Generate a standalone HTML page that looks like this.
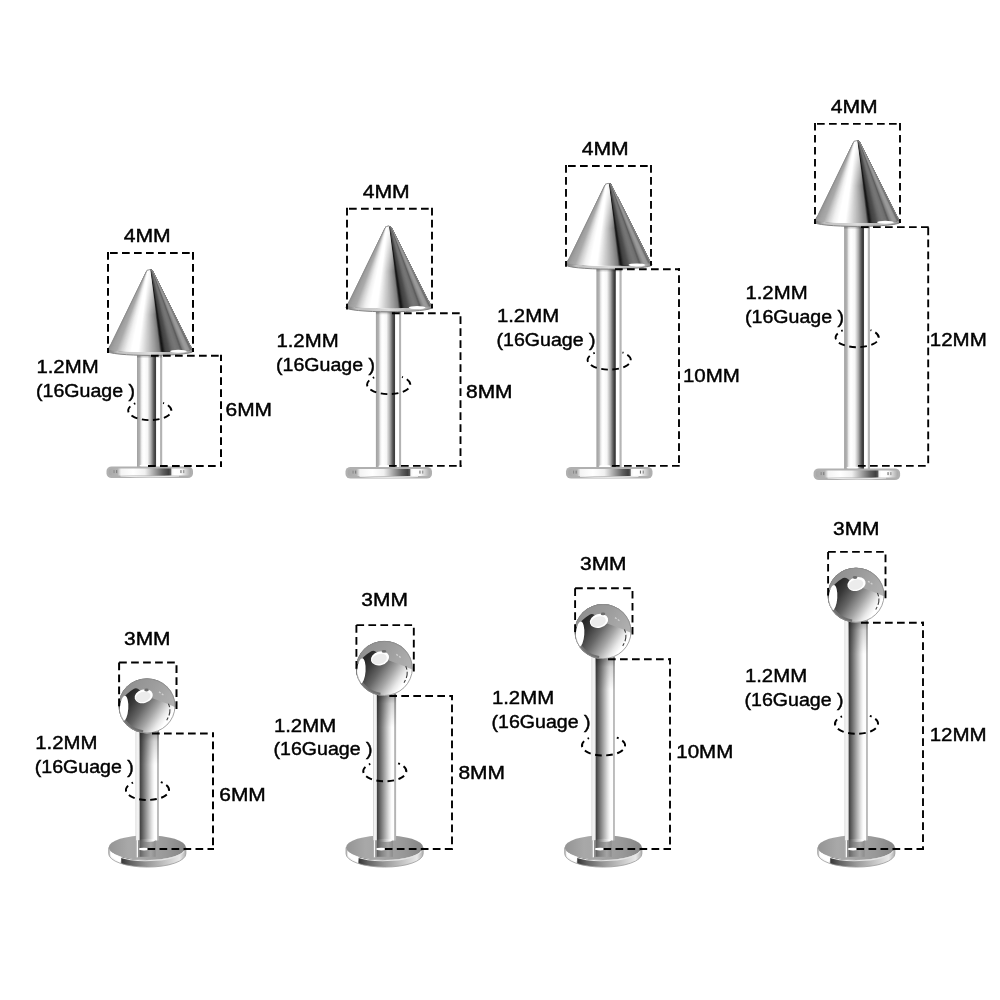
<!DOCTYPE html>
<html lang="en">
<head>
<meta charset="utf-8">
<title>Labret stud size chart</title>
<style>
html,body{margin:0;padding:0;background:#fff;}
body{width:1000px;height:1000px;overflow:hidden;}
svg{display:block;}
text{font-family:"Liberation Sans",Arial,sans-serif;fill:#000;stroke:#000;stroke-width:0.45px;}
</style>
</head>
<body>
<svg width="1000" height="1000" viewBox="0 0 1000 1000">
<defs>
<linearGradient id="postA" x1="0" y1="0" x2="1" y2="0" gradientUnits="objectBoundingBox"><stop offset="0.000" stop-color="#a0a0a0"/><stop offset="0.110" stop-color="#b4b4b4"/><stop offset="0.170" stop-color="#e8e8e8"/><stop offset="0.230" stop-color="#fcfcfc"/><stop offset="0.280" stop-color="#ffffff"/><stop offset="0.420" stop-color="#f6f6f6"/><stop offset="0.550" stop-color="#b0b0b0"/><stop offset="0.660" stop-color="#5c5c5c"/><stop offset="0.720" stop-color="#3c3c3c"/><stop offset="0.755" stop-color="#404040"/><stop offset="0.770" stop-color="#f0f0f0"/><stop offset="0.800" stop-color="#ffffff"/><stop offset="0.900" stop-color="#ffffff"/><stop offset="0.930" stop-color="#b8b8b8"/><stop offset="1.000" stop-color="#b0b0b0"/></linearGradient>
<linearGradient id="postB" x1="0" y1="0" x2="1" y2="0" gradientUnits="objectBoundingBox"><stop offset="0.000" stop-color="#b8b8b8"/><stop offset="0.040" stop-color="#f4f4f4"/><stop offset="0.120" stop-color="#f0f0f0"/><stop offset="0.160" stop-color="#d0d0d0"/><stop offset="0.180" stop-color="#404040"/><stop offset="0.240" stop-color="#505050"/><stop offset="0.400" stop-color="#848484"/><stop offset="0.560" stop-color="#b8b8b8"/><stop offset="0.700" stop-color="#e4e4e4"/><stop offset="0.800" stop-color="#fcfcfc"/><stop offset="0.900" stop-color="#ffffff"/><stop offset="0.930" stop-color="#c0c0c0"/><stop offset="1.000" stop-color="#acacac"/></linearGradient>
<linearGradient id="postShadeB" x1="0" y1="0" x2="0" y2="1"><stop offset="0" stop-color="#000" stop-opacity="0.4"/><stop offset="0.3" stop-color="#000" stop-opacity="0.16"/><stop offset="1" stop-color="#000" stop-opacity="0"/></linearGradient>
<linearGradient id="postFoot" x1="0" y1="0" x2="1" y2="0" gradientUnits="objectBoundingBox"><stop offset="0.000" stop-color="#585858"/><stop offset="0.300" stop-color="#808080"/><stop offset="0.700" stop-color="#a4a4a4"/><stop offset="1.000" stop-color="#8c8c8c"/></linearGradient>
<linearGradient id="postB2" x1="0" y1="0" x2="1" y2="0" gradientUnits="objectBoundingBox"><stop offset="0.000" stop-color="#505050"/><stop offset="0.100" stop-color="#606060"/><stop offset="0.350" stop-color="#989898"/><stop offset="0.600" stop-color="#d0d0d0"/><stop offset="0.850" stop-color="#fcfcfc"/><stop offset="1.000" stop-color="#f0f0f0"/></linearGradient>
<linearGradient id="postRefl" x1="0" y1="0" x2="1" y2="0" gradientUnits="objectBoundingBox"><stop offset="0.000" stop-color="#606060"/><stop offset="0.300" stop-color="#848484"/><stop offset="0.700" stop-color="#a4a4a4"/><stop offset="1.000" stop-color="#8c8c8c"/></linearGradient>
<linearGradient id="discA" x1="0" y1="0" x2="1" y2="0" gradientUnits="objectBoundingBox"><stop offset="0.000" stop-color="#a8a8a8"/><stop offset="0.110" stop-color="#b4b4b4"/><stop offset="0.150" stop-color="#f4f4f4"/><stop offset="0.300" stop-color="#ffffff"/><stop offset="0.440" stop-color="#f0f0f0"/><stop offset="0.550" stop-color="#a8a8a8"/><stop offset="0.660" stop-color="#606060"/><stop offset="0.730" stop-color="#404040"/><stop offset="0.755" stop-color="#585858"/><stop offset="0.770" stop-color="#f4f4f4"/><stop offset="0.800" stop-color="#ffffff"/><stop offset="0.880" stop-color="#fcfcfc"/><stop offset="0.930" stop-color="#d8d8d8"/><stop offset="1.000" stop-color="#a8a8a8"/></linearGradient>
<linearGradient id="rim" x1="0" y1="0" x2="1" y2="0" gradientUnits="objectBoundingBox"><stop offset="0.000" stop-color="#787878"/><stop offset="0.070" stop-color="#989898"/><stop offset="0.120" stop-color="#c0c0c0"/><stop offset="0.300" stop-color="#cccccc"/><stop offset="0.500" stop-color="#dcdcdc"/><stop offset="0.700" stop-color="#b8b8b8"/><stop offset="0.880" stop-color="#c8c8c8"/><stop offset="0.950" stop-color="#a0a0a0"/><stop offset="1.000" stop-color="#808080"/></linearGradient>
<linearGradient id="postShade" x1="0" y1="0" x2="0" y2="1"><stop offset="0" stop-color="#000" stop-opacity="0.45"/><stop offset="1" stop-color="#000" stop-opacity="0"/></linearGradient>
<linearGradient id="discBtop" x1="0" y1="0" x2="1" y2="0" gradientUnits="objectBoundingBox"><stop offset="0.000" stop-color="#949494"/><stop offset="0.250" stop-color="#a8a8a8"/><stop offset="0.500" stop-color="#a4a4a4"/><stop offset="0.750" stop-color="#989898"/><stop offset="1.000" stop-color="#848484"/></linearGradient>
<linearGradient id="discBside" x1="0" y1="0" x2="1" y2="0" gradientUnits="objectBoundingBox"><stop offset="0.000" stop-color="#b0b0b0"/><stop offset="0.030" stop-color="#f0f0f0"/><stop offset="0.150" stop-color="#ffffff"/><stop offset="0.170" stop-color="#383838"/><stop offset="0.280" stop-color="#606060"/><stop offset="0.500" stop-color="#989898"/><stop offset="0.750" stop-color="#c8c8c8"/><stop offset="0.920" stop-color="#e8e8e8"/><stop offset="1.000" stop-color="#b0b0b0"/></linearGradient>
<linearGradient id="ballBody" x1="-20" y1="-7" x2="17" y2="18" gradientUnits="userSpaceOnUse"><stop offset="0.000" stop-color="#282828"/><stop offset="0.150" stop-color="#383838"/><stop offset="0.400" stop-color="#666666"/><stop offset="0.650" stop-color="#a4a4a4"/><stop offset="0.880" stop-color="#e8e8e8"/><stop offset="1.000" stop-color="#ffffff"/></linearGradient>
<linearGradient id="ballTop" x1="-20" y1="-28" x2="24" y2="0" gradientUnits="userSpaceOnUse"><stop offset="0.000" stop-color="#8e8e8e"/><stop offset="0.500" stop-color="#9c9c9c"/><stop offset="1.000" stop-color="#b0b0b0"/></linearGradient>
<clipPath id="coneClip"><path d="M0.17 96.40 L37.91 18.87 A4.10 4.10 0 0 1 45.41 18.87 L84.39 96.40 A43.10 3.20 0 0 1 0.17 96.40 Z"/></clipPath>
<linearGradient id="coneFade" x1="0" y1="24" x2="0" y2="62" gradientUnits="userSpaceOnUse"><stop offset="0" stop-color="#fff" stop-opacity="0.9"/><stop offset="0.5" stop-color="#fff" stop-opacity="0.45"/><stop offset="1" stop-color="#fff" stop-opacity="0"/></linearGradient>
<g id="cone"><path d="M-0.80 98.10 A43.10 4.30 0 0 0 85.40 98.10 L82.40 92.40 L2.20 92.40 Z" fill="url(#rim)" stroke="#828282" stroke-width="1" stroke-linejoin="round"/><g clip-path="url(#coneClip)"><path d="M41.60 9.80 L-12.69 106.40 L95.97 106.40 Z" fill="#929292"/><path d="M41.60 9.80 L-3.52 106.40 L95.97 106.40 Z" fill="#969696"/><path d="M41.60 9.80 L-2.34 106.40 L95.97 106.40 Z" fill="#9a9a9a"/><path d="M41.60 9.80 L-1.16 106.40 L95.97 106.40 Z" fill="#9e9e9e"/><path d="M41.60 9.80 L0.01 106.40 L95.97 106.40 Z" fill="#a1a1a1"/><path d="M41.60 9.80 L1.19 106.40 L95.97 106.40 Z" fill="#a3a3a3"/><path d="M41.60 9.80 L2.36 106.40 L95.97 106.40 Z" fill="#a6a6a6"/><path d="M41.60 9.80 L3.54 106.40 L95.97 106.40 Z" fill="#a8a8a8"/><path d="M41.60 9.80 L4.72 106.40 L95.97 106.40 Z" fill="#ababab"/><path d="M41.60 9.80 L5.89 106.40 L95.97 106.40 Z" fill="#b4b4b4"/><path d="M41.60 9.80 L7.07 106.40 L95.97 106.40 Z" fill="#bcbcbc"/><path d="M41.60 9.80 L8.25 106.40 L95.97 106.40 Z" fill="#c5c5c5"/><path d="M41.60 9.80 L9.42 106.40 L95.97 106.40 Z" fill="#cdcdcd"/><path d="M41.60 9.80 L10.60 106.40 L95.97 106.40 Z" fill="#d5d5d5"/><path d="M41.60 9.80 L11.78 106.40 L95.97 106.40 Z" fill="#dbdbdb"/><path d="M41.60 9.80 L12.95 106.40 L95.97 106.40 Z" fill="#e2e2e2"/><path d="M41.60 9.80 L14.13 106.40 L95.97 106.40 Z" fill="#e9e9e9"/><path d="M41.60 9.80 L15.31 106.40 L95.97 106.40 Z" fill="#efefef"/><path d="M41.60 9.80 L16.48 106.40 L95.97 106.40 Z" fill="#f3f3f3"/><path d="M41.60 9.80 L17.66 106.40 L95.97 106.40 Z" fill="#f6f6f6"/><path d="M41.60 9.80 L18.83 106.40 L95.97 106.40 Z" fill="#f9f9f9"/><path d="M41.60 9.80 L20.01 106.40 L95.97 106.40 Z" fill="#fcfcfc"/><path d="M41.60 9.80 L21.19 106.40 L95.97 106.40 Z" fill="#ffffff"/><path d="M41.60 9.80 L22.36 106.40 L95.97 106.40 Z" fill="#ffffff"/><path d="M41.60 9.80 L23.54 106.40 L95.97 106.40 Z" fill="#ffffff"/><path d="M41.60 9.80 L24.72 106.40 L95.97 106.40 Z" fill="#ffffff"/><path d="M41.60 9.80 L25.89 106.40 L95.97 106.40 Z" fill="#ffffff"/><path d="M41.60 9.80 L27.07 106.40 L95.97 106.40 Z" fill="#ffffff"/><path d="M41.60 9.80 L28.25 106.40 L95.97 106.40 Z" fill="#ffffff"/><path d="M41.60 9.80 L29.42 106.40 L95.97 106.40 Z" fill="#fbfbfb"/><path d="M41.60 9.80 L30.60 106.40 L95.97 106.40 Z" fill="#f4f4f4"/><path d="M41.60 9.80 L31.78 106.40 L95.97 106.40 Z" fill="#eeeeee"/><path d="M41.60 9.80 L32.95 106.40 L95.97 106.40 Z" fill="#e8e8e8"/><path d="M41.60 9.80 L34.13 106.40 L95.97 106.40 Z" fill="#e2e2e2"/><path d="M41.60 9.80 L35.31 106.40 L95.97 106.40 Z" fill="#dbdbdb"/><path d="M41.60 9.80 L36.48 106.40 L95.97 106.40 Z" fill="#d5d5d5"/><path d="M41.60 9.80 L37.66 106.40 L95.97 106.40 Z" fill="#cecece"/><path d="M41.60 9.80 L38.83 106.40 L95.97 106.40 Z" fill="#c8c8c8"/><path d="M41.60 9.80 L40.01 106.40 L95.97 106.40 Z" fill="#c2c2c2"/><path d="M41.60 9.80 L41.19 106.40 L95.97 106.40 Z" fill="#bbbbbb"/><path d="M41.60 9.80 L42.36 106.40 L95.97 106.40 Z" fill="#b5b5b5"/><path d="M41.60 9.80 L43.54 106.40 L95.97 106.40 Z" fill="#aeaeae"/><path d="M41.60 9.80 L44.72 106.40 L95.97 106.40 Z" fill="#a7a7a7"/><path d="M41.60 9.80 L45.89 106.40 L95.97 106.40 Z" fill="#a1a1a1"/><path d="M41.60 9.80 L47.07 106.40 L95.97 106.40 Z" fill="#9a9a9a"/><path d="M41.60 9.80 L48.25 106.40 L95.97 106.40 Z" fill="#929292"/><path d="M41.60 9.80 L49.42 106.40 L95.97 106.40 Z" fill="#8a8a8a"/><path d="M41.60 9.80 L50.60 106.40 L95.97 106.40 Z" fill="#828282"/><path d="M41.60 9.80 L51.78 106.40 L95.97 106.40 Z" fill="#7a7a7a"/><path d="M41.60 9.80 L52.95 106.40 L95.97 106.40 Z" fill="#515151"/><path d="M41.60 9.80 L54.13 106.40 L95.97 106.40 Z" fill="#1f1f1f"/><path d="M41.60 9.80 L55.31 106.40 L95.97 106.40 Z" fill="#151515"/><path d="M41.60 9.80 L56.48 106.40 L95.97 106.40 Z" fill="#242424"/><path d="M41.60 9.80 L57.66 106.40 L95.97 106.40 Z" fill="#373737"/><path d="M41.60 9.80 L58.83 106.40 L95.97 106.40 Z" fill="#424242"/><path d="M41.60 9.80 L60.01 106.40 L95.97 106.40 Z" fill="#474747"/><path d="M41.60 9.80 L61.19 106.40 L95.97 106.40 Z" fill="#4b4b4b"/><path d="M41.60 9.80 L62.36 106.40 L95.97 106.40 Z" fill="#505050"/><path d="M41.60 9.80 L63.54 106.40 L95.97 106.40 Z" fill="#585858"/><path d="M41.60 9.80 L64.72 106.40 L95.97 106.40 Z" fill="#616161"/><path d="M41.60 9.80 L65.89 106.40 L95.97 106.40 Z" fill="#696969"/><path d="M41.60 9.80 L67.07 106.40 L95.97 106.40 Z" fill="#6f6f6f"/><path d="M41.60 9.80 L68.25 106.40 L95.97 106.40 Z" fill="#727272"/><path d="M41.60 9.80 L69.42 106.40 L95.97 106.40 Z" fill="#767676"/><path d="M41.60 9.80 L70.60 106.40 L95.97 106.40 Z" fill="#777777"/><path d="M41.60 9.80 L71.78 106.40 L95.97 106.40 Z" fill="#757575"/><path d="M41.60 9.80 L72.95 106.40 L95.97 106.40 Z" fill="#727272"/><path d="M41.60 9.80 L74.13 106.40 L95.97 106.40 Z" fill="#707070"/><path d="M41.60 9.80 L75.31 106.40 L95.97 106.40 Z" fill="#616161"/><path d="M41.60 9.80 L76.48 106.40 L95.97 106.40 Z" fill="#5e5e5e"/><path d="M41.60 9.80 L77.66 106.40 L95.97 106.40 Z" fill="#787878"/><path d="M41.60 9.80 L78.83 106.40 L95.97 106.40 Z" fill="#878787"/><path d="M41.60 9.80 L80.01 106.40 L95.97 106.40 Z" fill="#919191"/><path d="M41.60 9.80 L81.19 106.40 L95.97 106.40 Z" fill="#9b9b9b"/><path d="M41.60 9.80 L82.36 106.40 L95.97 106.40 Z" fill="#9b9b9b"/><path d="M41.60 9.80 L83.54 106.40 L95.97 106.40 Z" fill="#999999"/><path d="M41.60 9.80 L84.72 106.40 L95.97 106.40 Z" fill="#959595"/><path d="M41.60 9.80 L85.89 106.40 L95.97 106.40 Z" fill="#7a7a7a"/><path d="M41.60 9.80 L87.07 106.40 L95.97 106.40 Z" fill="#696969"/><path d="M41.60 9.80 L88.25 106.40 L95.97 106.40 Z" fill="#636363"/><path d="M41.60 11.30 L21.66 106.40 L54.13 106.40 Z" fill="url(#coneFade)"/></g><path d="M0.47 96.40 L38.21 18.87 A3.80 3.80 0 0 1 45.11 18.87 L84.09 96.40" fill="none" stroke="#8c8c8c" stroke-width="0.9"/><ellipse cx="70.40" cy="98.20" rx="8.4" ry="1.5" fill="#fff"/></g>
<clipPath id="ballClip"><ellipse cx="0" cy="0" rx="28.40" ry="27.50"/></clipPath>
<g id="ball"><ellipse cx="0" cy="0" rx="28.40" ry="27.50" fill="url(#ballBody)"/><g clip-path="url(#ballClip)"><path d="M-40 -2 L-26.8 -4.4 Q-21 -12.5 -13 -17.2 Q-9 -18.6 -6 -14 Q0 -9 6 -7.4 Q14 -4.6 19 -2.6 Q24 -0.6 30 2 L40 -40 L-40 -40 Z" fill="url(#ballTop)"/><path d="M-27.6 3 A27.6 26.8 0 0 0 -4 26.6" fill="none" stroke="#707070" stroke-width="4.4"/><ellipse cx="-23.0" cy="2.6" rx="4.3" ry="12.8" fill="#fff" transform="rotate(4 -23.0 2.6)"/><path d="M21.4 -2.2 Q25.4 6 19.0 15.4" fill="none" stroke="#3c3c3c" stroke-width="1.1" stroke-dasharray="3.5 2.2 6.5 2.2 3 40"/><path d="M12 -14 L17 -10.5" fill="none" stroke="#d0d0d0" stroke-width="1.3" stroke-dasharray="2 1.4"/></g><ellipse cx="0" cy="0" rx="28.00" ry="27.10" fill="none" stroke="#8c8c8c" stroke-width="0.8"/></g>
<g id="spot"><ellipse cx="-3.3" cy="-9.6" rx="9.3" ry="6.8" fill="#fff" transform="rotate(-16 -3.3 -9.6)"/><ellipse cx="-3.9" cy="-9.0" rx="7.6" ry="5.0" fill="#ececec" transform="rotate(-16 -3.9 -9.0)"/></g>
<ellipse id="dot" cx="-0.5" cy="-15.9" rx="2.3" ry="1.4" fill="#6c6c6c"/>
<g id="discT"><rect x="0" y="0" width="86.50" height="11.50" rx="5.2" ry="4.6" fill="#b0b0b0"/><rect x="2.2" y="2.0" width="82.10" height="6.90" rx="3" ry="3" fill="url(#discA)"/><path d="M14 9.30 Q43.25 11.30 72.50 9.30" fill="none" stroke="#e8e8e8" stroke-width="1.2"/><rect x="73.90" y="3.6" width="1.1" height="3" fill="#6a6a6a"/><rect x="76.70" y="3.6" width="1.1" height="3" fill="#8a8a8a"/><rect x="7.0" y="3.6" width="1.1" height="3" fill="#8a8a8a"/><rect x="9.6" y="3.6" width="1.1" height="3" fill="#7a7a7a"/></g>
<g id="discB"><path d="M-38.60 12.40 L-38.60 18.50 A38.60 13.40 0 0 0 38.60 18.50 L38.60 12.40 A38.60 12.40 0 0 1 -38.60 12.40 Z" fill="url(#discBside)"/><path d="M-38.60 12.40 L-38.60 18.50 A38.60 13.40 0 0 0 38.60 18.50 L38.60 12.40" fill="none" stroke="#9a9a9a" stroke-width="0.8"/><ellipse cx="0" cy="12.40" rx="38.60" ry="12.40" fill="url(#discBtop)"/><path d="M-29.60 21.33 A38.60 12.40 0 0 0 36.60 16.12" fill="none" stroke="#e4e4e4" stroke-width="1.1"/><path d="M-37.00 16.00 Q-32.60 19.90 -26.10 22.00 L-26.60 26.40 Q-33.60 24.40 -36.80 20.40 Z" fill="#fff"/></g>
</defs>
<rect width="1000" height="1000" fill="#fff"/>
<g opacity="0.999">
<rect x="137.00" y="353.50" width="25.20" height="113.50" fill="url(#postA)"/>
<rect x="137.00" y="353.50" width="25.20" height="5" fill="url(#postShade)"/>
<ellipse cx="145.50" cy="465.80" rx="6" ry="1.4" fill="#fff"/>
<use href="#discT" x="106.50" y="466.50"/>
<use href="#cone" x="108.00" y="253.00"/>
<path d="M110.0 253.0 H194.0 M108.0 252.0 V353.0 M193.0 252.0 V352.0" fill="none" stroke="#000" stroke-width="2.0" stroke-dasharray="7.7 4.3" />
<path d="M151.0 355.8 H222.0 M148.0 465.9 H222.0" fill="none" stroke="#000" stroke-width="2.0" stroke-dasharray="7.7 4.3" />
<path d="M221.0 354.8 V466.9" fill="none" stroke="#000" stroke-width="2.0" stroke-dasharray="7.7 4.3" stroke-dashoffset="1.5"/>
<path d="M135.35 403.37 A21.60 9.60 0 1 0 163.10 402.94" fill="none" stroke="#000" stroke-width="1.9" stroke-dasharray="6.7 4.3" stroke-dashoffset="5.2"/>
<text x="147.2" y="241.8" font-size="18.8" text-anchor="middle" textLength="47.0" lengthAdjust="spacingAndGlyphs">4MM</text>
<text x="36.4" y="373.3" font-size="18.8" text-anchor="start" textLength="62.2" lengthAdjust="spacingAndGlyphs">1.2MM</text>
<text x="36.0" y="397.2" font-size="18.8" text-anchor="start" textLength="99.0" lengthAdjust="spacingAndGlyphs">(16Guage )</text>
<text x="225.5" y="416.1" font-size="18.8" text-anchor="start" textLength="46.5" lengthAdjust="spacingAndGlyphs">6MM</text>
<rect x="375.90" y="309.90" width="25.20" height="157.60" fill="url(#postA)"/>
<rect x="375.90" y="309.90" width="25.20" height="5" fill="url(#postShade)"/>
<ellipse cx="384.40" cy="466.30" rx="6" ry="1.4" fill="#fff"/>
<use href="#discT" x="345.50" y="467.00"/>
<use href="#cone" x="346.70" y="209.40"/>
<path d="M349.0 208.8 H433.0 M347.0 207.8 V309.4 M432.0 207.8 V308.4" fill="none" stroke="#000" stroke-width="1.9" stroke-dasharray="7.7 4.3" />
<path d="M392.0 313.2 H461.5 M389.0 465.9 H461.5" fill="none" stroke="#000" stroke-width="1.9" stroke-dasharray="7.7 4.3" />
<path d="M460.5 312.2 V466.9" fill="none" stroke="#000" stroke-width="1.9" stroke-dasharray="7.7 4.3" stroke-dashoffset="8.0"/>
<path d="M374.25 377.37 A21.60 9.60 0 1 0 402.00 376.94" fill="none" stroke="#000" stroke-width="1.9" stroke-dasharray="6.7 4.3" stroke-dashoffset="5.2"/>
<text x="386.2" y="197.6" font-size="18.8" text-anchor="middle" textLength="47.0" lengthAdjust="spacingAndGlyphs">4MM</text>
<text x="276.4" y="347.3" font-size="18.8" text-anchor="start" textLength="62.2" lengthAdjust="spacingAndGlyphs">1.2MM</text>
<text x="276.0" y="370.6" font-size="18.8" text-anchor="start" textLength="99.0" lengthAdjust="spacingAndGlyphs">(16Guage )</text>
<text x="466.0" y="398.4" font-size="18.8" text-anchor="start" textLength="46.5" lengthAdjust="spacingAndGlyphs">8MM</text>
<rect x="596.40" y="267.20" width="25.20" height="200.30" fill="url(#postA)"/>
<rect x="596.40" y="267.20" width="25.20" height="5" fill="url(#postShade)"/>
<ellipse cx="604.90" cy="466.30" rx="6" ry="1.4" fill="#fff"/>
<use href="#discT" x="566.00" y="467.00"/>
<use href="#cone" x="566.50" y="166.70"/>
<path d="M568.0 166.0 H652.0 M566.0 165.0 V266.7 M651.0 165.0 V265.7" fill="none" stroke="#000" stroke-width="1.9" stroke-dasharray="7.7 4.3" />
<path d="M615.0 269.2 H680.0 M612.0 465.9 H680.0" fill="none" stroke="#000" stroke-width="1.9" stroke-dasharray="7.7 4.3" />
<path d="M679.0 268.2 V466.9" fill="none" stroke="#000" stroke-width="1.9" stroke-dasharray="7.7 4.3" stroke-dashoffset="5.0"/>
<path d="M594.75 352.87 A21.60 9.60 0 1 0 622.50 352.44" fill="none" stroke="#000" stroke-width="1.9" stroke-dasharray="6.7 4.3" stroke-dashoffset="5.2"/>
<text x="605.2" y="154.8" font-size="18.8" text-anchor="middle" textLength="47.0" lengthAdjust="spacingAndGlyphs">4MM</text>
<text x="496.9" y="322.3" font-size="18.8" text-anchor="start" textLength="62.2" lengthAdjust="spacingAndGlyphs">1.2MM</text>
<text x="496.5" y="345.6" font-size="18.8" text-anchor="start" textLength="99.0" lengthAdjust="spacingAndGlyphs">(16Guage )</text>
<text x="682.9" y="381.5" font-size="18.8" text-anchor="start" textLength="57.0" lengthAdjust="spacingAndGlyphs">10MM</text>
<rect x="844.10" y="224.50" width="25.80" height="244.50" fill="url(#postA)"/>
<rect x="844.10" y="224.50" width="25.80" height="5" fill="url(#postShade)"/>
<ellipse cx="852.60" cy="467.80" rx="6" ry="1.4" fill="#fff"/>
<use href="#discT" x="813.60" y="468.50"/>
<use href="#cone" x="815.00" y="124.00"/>
<path d="M817.0 123.9 H901.0 M815.0 122.9 V224.0 M900.0 122.9 V223.0" fill="none" stroke="#000" stroke-width="1.9" stroke-dasharray="7.7 4.3" />
<path d="M861.0 227.1 H929.2 M858.0 465.9 H929.2" fill="none" stroke="#000" stroke-width="1.9" stroke-dasharray="7.7 4.3" />
<path d="M928.2 226.1 V466.9" fill="none" stroke="#000" stroke-width="1.9" stroke-dasharray="7.7 4.3" stroke-dashoffset="10.5"/>
<path d="M842.75 330.47 A21.60 9.60 0 1 0 870.50 330.04" fill="none" stroke="#000" stroke-width="1.9" stroke-dasharray="6.7 4.3" stroke-dashoffset="5.2"/>
<text x="854.2" y="112.7" font-size="18.8" text-anchor="middle" textLength="47.0" lengthAdjust="spacingAndGlyphs">4MM</text>
<text x="745.4" y="299.3" font-size="18.8" text-anchor="start" textLength="62.2" lengthAdjust="spacingAndGlyphs">1.2MM</text>
<text x="745.0" y="323.3" font-size="18.8" text-anchor="start" textLength="99.0" lengthAdjust="spacingAndGlyphs">(16Guage )</text>
<text x="929.8" y="345.6" font-size="18.8" text-anchor="start" textLength="57.0" lengthAdjust="spacingAndGlyphs">12MM</text>
<use href="#discB" x="147.30" y="835.20"/>
<rect x="135.70" y="730.90" width="23.10" height="109.60" fill="url(#postB)"/>
<rect x="139.50" y="730.90" width="19.30" height="34" fill="url(#postShadeB)"/>
<rect x="139.50" y="840.30" width="16.10" height="8.5" fill="url(#postFoot)"/>
<ellipse cx="147.55" cy="840.30" rx="8.05" ry="1.6" fill="url(#postB2)"/>
<rect x="139.50" y="849.80" width="16.10" height="7" fill="url(#postRefl)"/>
<rect x="136.50" y="840.30" width="1.6" height="17" fill="#f8f8f8"/>
<rect x="138.10" y="840.30" width="1.2" height="17" fill="#8c8c8c"/>
<rect x="135.70" y="840.30" width="0.8" height="17" fill="#b0b0b0"/>
<ellipse cx="144.00" cy="849.10" rx="5.2" ry="1.4" fill="#fff"/>
<use href="#ball" x="147.00" y="705.90"/>
<use href="#spot" x="147.00" y="705.90"/>
<use href="#dot" x="147.00" y="705.90"/>
<path d="M119.1 662.6 H176.5 V710.4 M119.1 662.6 V707.9" fill="none" stroke="#000" stroke-width="2.0" stroke-dasharray="7.7 4.3" />
<path d="M152.0 733.5 H214.0 M147.5 849.0 H214.0" fill="none" stroke="#000" stroke-width="2.0" stroke-dasharray="7.7 4.3" />
<path d="M213.0 732.5 V850.0" fill="none" stroke="#000" stroke-width="2.0" stroke-dasharray="7.7 4.3" stroke-dashoffset="3.0"/>
<path d="M133.05 782.57 A21.60 10.00 0 1 0 160.80 782.12" fill="none" stroke="#000" stroke-width="1.9" stroke-dasharray="6.7 4.3" stroke-dashoffset="5.2"/>
<text x="147.3" y="644.7" font-size="18.8" text-anchor="middle" textLength="46.5" lengthAdjust="spacingAndGlyphs">3MM</text>
<text x="35.2" y="748.8" font-size="18.8" text-anchor="start" textLength="62.2" lengthAdjust="spacingAndGlyphs">1.2MM</text>
<text x="34.8" y="772.6" font-size="18.8" text-anchor="start" textLength="99.0" lengthAdjust="spacingAndGlyphs">(16Guage )</text>
<text x="219.3" y="800.7" font-size="18.8" text-anchor="start" textLength="46.5" lengthAdjust="spacingAndGlyphs">6MM</text>
<use href="#discB" x="384.60" y="835.20"/>
<rect x="373.00" y="693.40" width="23.10" height="147.10" fill="url(#postB)"/>
<rect x="376.80" y="693.40" width="19.30" height="34" fill="url(#postShadeB)"/>
<rect x="376.80" y="840.30" width="16.10" height="8.5" fill="url(#postFoot)"/>
<ellipse cx="384.85" cy="840.30" rx="8.05" ry="1.6" fill="url(#postB2)"/>
<rect x="376.80" y="849.80" width="16.10" height="7" fill="url(#postRefl)"/>
<rect x="373.80" y="840.30" width="1.6" height="17" fill="#f8f8f8"/>
<rect x="375.40" y="840.30" width="1.2" height="17" fill="#8c8c8c"/>
<rect x="373.00" y="840.30" width="0.8" height="17" fill="#b0b0b0"/>
<ellipse cx="381.30" cy="849.10" rx="5.2" ry="1.4" fill="#fff"/>
<use href="#ball" x="384.30" y="668.40"/>
<use href="#spot" x="383.30" y="668.00"/>
<use href="#dot" x="384.50" y="667.30"/>
<path d="M356.4 625.1 H413.8 V672.9 M356.4 625.1 V670.4" fill="none" stroke="#000" stroke-width="1.9" stroke-dasharray="7.7 4.3" />
<path d="M389.3 696.0 H453.0 M384.8 849.0 H453.0" fill="none" stroke="#000" stroke-width="1.9" stroke-dasharray="7.7 4.3" />
<path d="M452.0 695.0 V850.0" fill="none" stroke="#000" stroke-width="1.9" stroke-dasharray="7.7 4.3" stroke-dashoffset="2.5"/>
<path d="M370.35 763.87 A21.60 10.00 0 1 0 398.10 763.42" fill="none" stroke="#000" stroke-width="1.9" stroke-dasharray="6.7 4.3" stroke-dashoffset="5.2"/>
<text x="384.6" y="606.0" font-size="18.8" text-anchor="middle" textLength="46.5" lengthAdjust="spacingAndGlyphs">3MM</text>
<text x="273.9" y="731.8" font-size="18.8" text-anchor="start" textLength="62.2" lengthAdjust="spacingAndGlyphs">1.2MM</text>
<text x="273.5" y="755.1" font-size="18.8" text-anchor="start" textLength="99.0" lengthAdjust="spacingAndGlyphs">(16Guage )</text>
<text x="458.4" y="778.8" font-size="18.8" text-anchor="start" textLength="46.5" lengthAdjust="spacingAndGlyphs">8MM</text>
<use href="#discB" x="603.30" y="835.20"/>
<rect x="591.70" y="656.60" width="23.10" height="183.90" fill="url(#postB)"/>
<rect x="595.50" y="656.60" width="19.30" height="34" fill="url(#postShadeB)"/>
<rect x="595.50" y="840.30" width="16.10" height="8.5" fill="url(#postFoot)"/>
<ellipse cx="603.55" cy="840.30" rx="8.05" ry="1.6" fill="url(#postB2)"/>
<rect x="595.50" y="849.80" width="16.10" height="7" fill="url(#postRefl)"/>
<rect x="592.50" y="840.30" width="1.6" height="17" fill="#f8f8f8"/>
<rect x="594.10" y="840.30" width="1.2" height="17" fill="#8c8c8c"/>
<rect x="591.70" y="840.30" width="0.8" height="17" fill="#b0b0b0"/>
<ellipse cx="600.00" cy="849.10" rx="5.2" ry="1.4" fill="#fff"/>
<use href="#ball" x="603.00" y="631.60"/>
<use href="#spot" x="602.30" y="630.50"/>
<use href="#dot" x="603.50" y="629.80"/>
<path d="M575.1 588.3 H632.5 V636.1 M575.1 588.3 V633.6" fill="none" stroke="#000" stroke-width="1.9" stroke-dasharray="7.7 4.3" />
<path d="M608.0 659.2 H671.0 M603.5 849.0 H671.0" fill="none" stroke="#000" stroke-width="1.9" stroke-dasharray="7.7 4.3" />
<path d="M670.0 658.2 V850.0" fill="none" stroke="#000" stroke-width="1.9" stroke-dasharray="7.7 4.3" stroke-dashoffset="1.5"/>
<path d="M589.05 738.07 A21.60 10.00 0 1 0 616.80 737.62" fill="none" stroke="#000" stroke-width="1.9" stroke-dasharray="6.7 4.3" stroke-dashoffset="5.2"/>
<text x="603.3" y="569.8" font-size="18.8" text-anchor="middle" textLength="46.5" lengthAdjust="spacingAndGlyphs">3MM</text>
<text x="491.9" y="704.1" font-size="18.8" text-anchor="start" textLength="62.2" lengthAdjust="spacingAndGlyphs">1.2MM</text>
<text x="491.5" y="728.1" font-size="18.8" text-anchor="start" textLength="99.0" lengthAdjust="spacingAndGlyphs">(16Guage )</text>
<text x="676.3" y="758.1" font-size="18.8" text-anchor="start" textLength="57.0" lengthAdjust="spacingAndGlyphs">10MM</text>
<use href="#discB" x="856.30" y="835.20"/>
<rect x="844.70" y="620.20" width="23.10" height="220.30" fill="url(#postB)"/>
<rect x="848.50" y="620.20" width="19.30" height="34" fill="url(#postShadeB)"/>
<rect x="848.50" y="840.30" width="16.10" height="8.5" fill="url(#postFoot)"/>
<ellipse cx="856.55" cy="840.30" rx="8.05" ry="1.6" fill="url(#postB2)"/>
<rect x="848.50" y="849.80" width="16.10" height="7" fill="url(#postRefl)"/>
<rect x="845.50" y="840.30" width="1.6" height="17" fill="#f8f8f8"/>
<rect x="847.10" y="840.30" width="1.2" height="17" fill="#8c8c8c"/>
<rect x="844.70" y="840.30" width="0.8" height="17" fill="#b0b0b0"/>
<ellipse cx="853.00" cy="849.10" rx="5.2" ry="1.4" fill="#fff"/>
<use href="#ball" x="856.00" y="595.20"/>
<use href="#spot" x="859.80" y="593.60"/>
<use href="#dot" x="855.50" y="593.40"/>
<path d="M828.1 551.9 H885.5 V599.7 M828.1 551.9 V597.2" fill="none" stroke="#000" stroke-width="1.9" stroke-dasharray="7.7 4.3" />
<path d="M861.0 622.8 H924.0 M856.5 849.0 H924.0" fill="none" stroke="#000" stroke-width="1.9" stroke-dasharray="7.7 4.3" />
<path d="M923.0 621.8 V850.0" fill="none" stroke="#000" stroke-width="1.9" stroke-dasharray="7.7 4.3" stroke-dashoffset="3.5"/>
<path d="M842.05 716.37 A21.60 10.00 0 1 0 869.80 715.92" fill="none" stroke="#000" stroke-width="1.9" stroke-dasharray="6.7 4.3" stroke-dashoffset="5.2"/>
<text x="856.3" y="534.7" font-size="18.8" text-anchor="middle" textLength="46.5" lengthAdjust="spacingAndGlyphs">3MM</text>
<text x="744.9" y="682.1" font-size="18.8" text-anchor="start" textLength="62.2" lengthAdjust="spacingAndGlyphs">1.2MM</text>
<text x="744.5" y="706.2" font-size="18.8" text-anchor="start" textLength="99.0" lengthAdjust="spacingAndGlyphs">(16Guage )</text>
<text x="929.7" y="741.3" font-size="18.8" text-anchor="start" textLength="57.0" lengthAdjust="spacingAndGlyphs">12MM</text>
</g>
</svg>
</body>
</html>
